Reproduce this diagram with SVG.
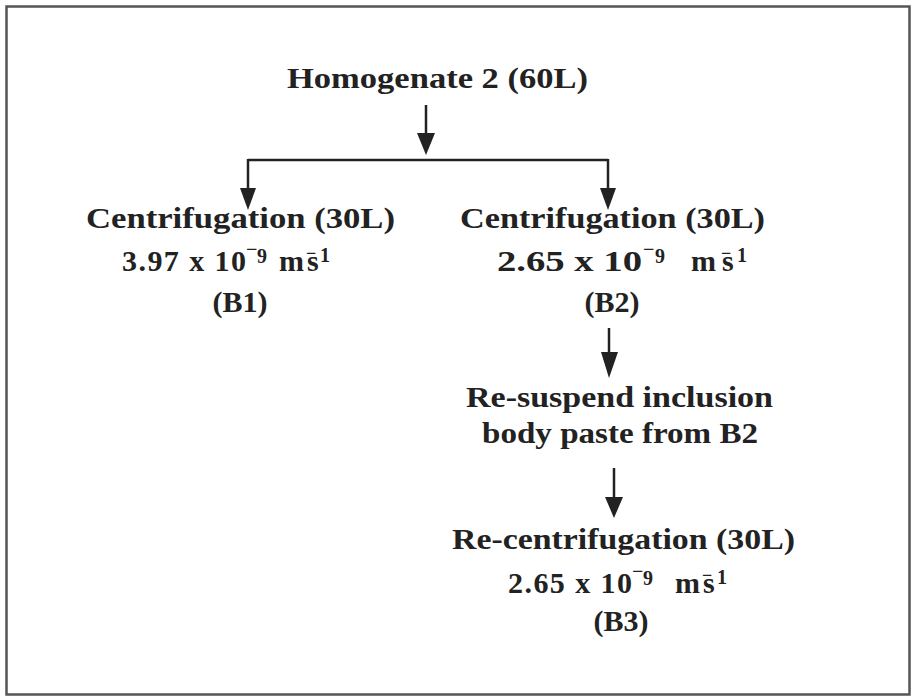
<svg xmlns="http://www.w3.org/2000/svg" width="912" height="697" viewBox="0 0 912 697">
<style>
  text { font-family: "Liberation Serif", "Times New Roman", serif; font-weight: bold; fill: #222; font-size: 30px; }
  .sup { font-size: 20px; }
  .mac { font-size: 18px; }
  .conn { stroke: #222; stroke-width: 2.5; fill: none; }
  .head { fill: #222; }
</style>
<rect x="6.5" y="6.5" width="903" height="688" fill="#fff" stroke="#555" stroke-width="2.5"/>
<g id="connectors">
  <line class="conn" x1="426" y1="105" x2="426" y2="134"/>
  <polygon class="head" points="417,133 435,133 426,155"/>
  <line class="conn" x1="248" y1="160" x2="608" y2="160"/>
  <line class="conn" x1="248" y1="159" x2="248" y2="189"/>
  <polygon class="head" points="240,188 256,188 248,210"/>
  <line class="conn" x1="608" y1="159" x2="608" y2="189"/>
  <polygon class="head" points="600,188 616,188 608,210"/>
  <line class="conn" x1="609" y1="328" x2="609" y2="353"/>
  <polygon class="head" points="601,352 618,352 609,378"/>
  <line class="conn" x1="614" y1="468" x2="614" y2="498"/>
  <polygon class="head" points="605,497 623,497 614,518"/>
</g>
<g id="homogenate">
  <text x="287" y="88" textLength="301" lengthAdjust="spacingAndGlyphs">Homogenate 2 (60L)</text>
</g>
<g id="b1">
  <text x="86" y="228" textLength="309" lengthAdjust="spacingAndGlyphs">Centrifugation (30L)</text>
  <text x="122" y="271" textLength="124" lengthAdjust="spacing">3.97 x 10</text>
  <text><tspan class="sup" x="246" y="256">−</tspan><tspan class="sup" x="257" y="263">9</tspan><tspan x="279" y="271">m</tspan><tspan x="307" y="271">s</tspan><tspan class="mac" x="306" y="259">−</tspan><tspan class="sup" x="320" y="262">1</tspan></text>
  <text x="240" y="312" text-anchor="middle">(B1)</text>
</g>
<g id="b2">
  <text x="460" y="228" textLength="305" lengthAdjust="spacingAndGlyphs">Centrifugation (30L)</text>
  <text x="497" y="271" textLength="145" lengthAdjust="spacingAndGlyphs">2.65 x 10</text>
  <text><tspan class="sup" x="643" y="256">−</tspan><tspan class="sup" x="655" y="263">9</tspan><tspan x="691" y="271">m</tspan><tspan x="722" y="271">s</tspan><tspan class="mac" x="721" y="259">−</tspan><tspan class="sup" x="737" y="262">1</tspan></text>
  <text x="612" y="312" text-anchor="middle">(B2)</text>
</g>
<g id="resuspend">
  <text x="466" y="407" textLength="307" lengthAdjust="spacingAndGlyphs">Re-suspend inclusion</text>
  <text x="482" y="443" textLength="276" lengthAdjust="spacingAndGlyphs">body paste from B2</text>
</g>
<g id="b3">
  <text x="452" y="549" textLength="343" lengthAdjust="spacingAndGlyphs">Re-centrifugation (30L)</text>
  <text x="508" y="593" textLength="124" lengthAdjust="spacing">2.65 x 10</text>
  <text><tspan class="sup" x="632" y="578">−</tspan><tspan class="sup" x="643" y="585">9</tspan><tspan x="675" y="593">m</tspan><tspan x="703" y="593">s</tspan><tspan class="mac" x="702" y="581">−</tspan><tspan class="sup" x="717" y="584">1</tspan></text>
  <text x="621" y="631" text-anchor="middle">(B3)</text>
</g>
</svg>
